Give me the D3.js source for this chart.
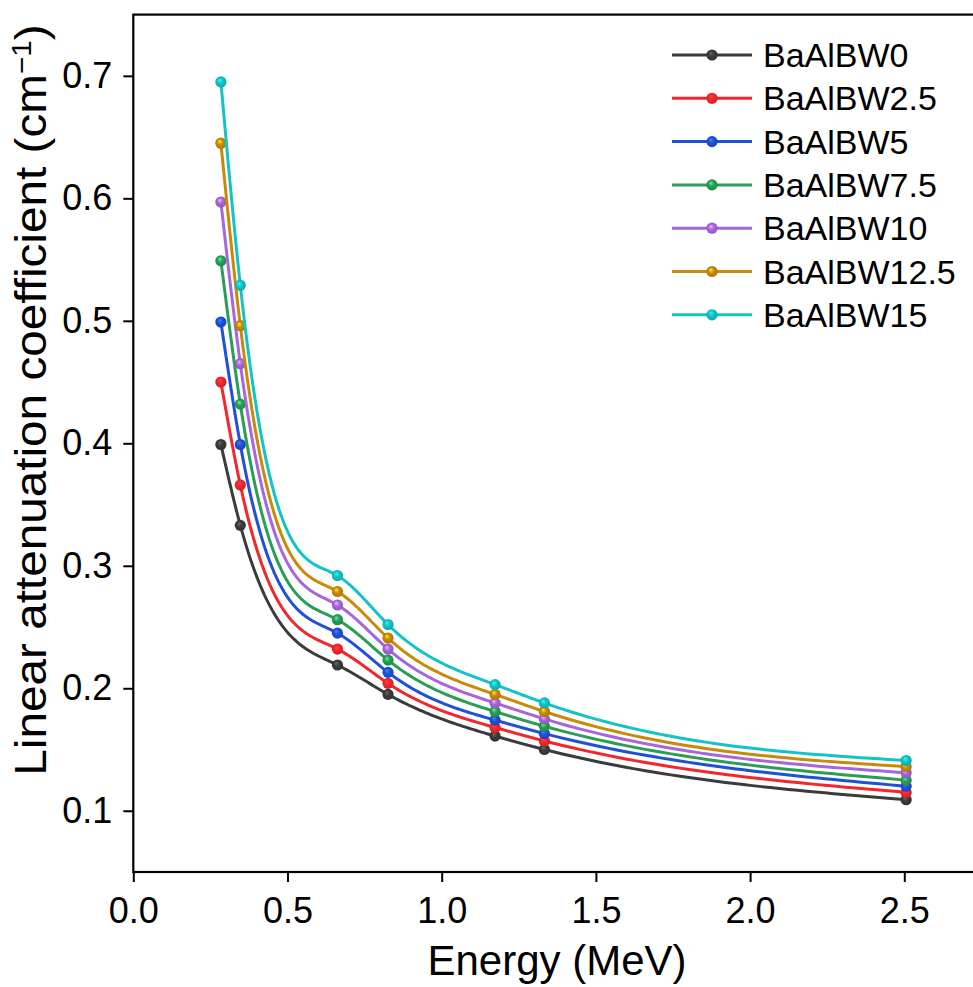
<!DOCTYPE html>
<html>
<head>
<meta charset="utf-8">
<script src="https://cdn.jsdelivr.net/npm/d3@7"></script>
<style>
    body { margin: 0; background: #ffffff; }
    text { font-family: Arial, "Liberation Sans", sans-serif; fill: #000000; }
</style>
</head>
<body>
<svg id="chart" width="973" height="987"></svg>
<script>
// photon energies (MeV)
var energies = [0.284, 0.347, 0.662, 0.826, 1.173, 1.333, 2.506];

var seriesNames = ["BaAlBW0", "BaAlBW2.5", "BaAlBW5", "BaAlBW7.5", "BaAlBW10", "BaAlBW12.5", "BaAlBW15"];

// linear attenuation coefficient (cm^-1)
var baAlBW0 = [0.399, 0.333, 0.219, 0.195, 0.161, 0.150, 0.109];
var baAlBW25 = [0.450, 0.366, 0.232, 0.204, 0.168, 0.157, 0.115];
var baAlBW5 = [0.499, 0.399, 0.245, 0.213, 0.174, 0.163, 0.120];
var baAlBW75 = [0.549, 0.432, 0.256, 0.223, 0.181, 0.169, 0.125];
var baAlBW10 = [0.597, 0.465, 0.268, 0.232, 0.188, 0.175, 0.131];
var baAlBW125 = [0.645, 0.496, 0.279, 0.241, 0.195, 0.181, 0.136];
var baAlBW15 = [0.695, 0.529, 0.292, 0.252, 0.203, 0.188, 0.141];

var seriesValues = [baAlBW0, baAlBW25, baAlBW5, baAlBW75, baAlBW10, baAlBW125, baAlBW15];
var seriesColors = ["#3b3b3b", "#f2272c", "#1f50d8", "#2a9e57", "#a766dc", "#c98a09", "#14c3c6"];

var xTicks = [0, 0.5, 1.0, 1.5, 2.0, 2.5];
var yTicks = [0.1, 0.2, 0.3, 0.4, 0.5, 0.6, 0.7];

var svg = d3.select("#chart");

let xScale = d3.scaleLinear().domain([0, 2.75]).range([133.3, 981.4]);
let yScale = d3.scaleLinear().domain([0.05, 0.75]).range([872, 14.6]);

// natural cubic spline y(x), used only to trace the smooth line between the points
function splinePath(xs, ys) {
    var n = xs.length;
    var h = [], alpha = [0];
    for (var i = 0; i < n - 1; i++) h.push(xs[i + 1] - xs[i]);
    for (var i = 1; i < n - 1; i++) {
        alpha.push(3 / h[i] * (ys[i + 1] - ys[i]) - 3 / h[i - 1] * (ys[i] - ys[i - 1]));
    }
    var l = [1], mu = [0], z = [0];
    for (var i = 1; i < n - 1; i++) {
        l.push(2 * (xs[i + 1] - xs[i - 1]) - h[i - 1] * mu[i - 1]);
        mu.push(h[i] / l[i]);
        z.push((alpha[i] - h[i - 1] * z[i - 1]) / l[i]);
    }
    var c = new Array(n).fill(0), b = [], d = [];
    for (var j = n - 2; j >= 0; j--) {
        c[j] = (j == 0) ? 0 : z[j] - mu[j] * c[j + 1];
        b[j] = (ys[j + 1] - ys[j]) / h[j] - h[j] * (c[j + 1] + 2 * c[j]) / 3;
        d[j] = (c[j + 1] - c[j]) / (3 * h[j]);
    }
    var out = [];
    for (var j = 0; j < n - 1; j++) {
        var steps = 40;
        for (var k = 0; k < steps; k++) {
            var t = h[j] * k / steps;
            out.push([xs[j] + t, ys[j] + b[j] * t + c[j] * t * t + d[j] * t * t * t]);
        }
    }
    out.push([xs[n - 1], ys[n - 1]]);
    return out;
}

// marker gradients (shiny balls)
var defs = svg.append("defs");
seriesColors.forEach(function (c, i) {
    var grad = defs.append("radialGradient")
        .attr("id", "ball" + i)
        .attr("cx", "50%").attr("cy", "50%").attr("r", "55%")
        .attr("fx", "38%").attr("fy", "32%");
    grad.append("stop").attr("offset", "0%").attr("stop-color", d3.color(c).brighter(1.6));
    grad.append("stop").attr("offset", "45%").attr("stop-color", c);
    grad.append("stop").attr("offset", "100%").attr("stop-color", d3.color(c).darker(0.5));
});

// axes
var xMinor = d3.range(0, 2.76, 0.25);
var yMinor = d3.range(0.05, 0.751, 0.05);

var gx = svg.append("g").attr("transform", "translate(0," + yScale(0.05) + ")");
gx.call(d3.axisBottom(xScale).tickValues(xMinor).tickSize(5).tickFormat(""));
gx.call(d3.axisBottom(xScale).tickValues(xTicks).tickSize(10).tickPadding(8).tickFormat(d3.format(".1f")));

var gy = svg.append("g").attr("transform", "translate(" + xScale(0) + ",0)");
gy.call(d3.axisLeft(yScale).tickValues(yMinor).tickSize(5).tickFormat(""));
gy.call(d3.axisLeft(yScale).tickValues(yTicks).tickSize(10).tickPadding(10).tickFormat(d3.format(".1f")));

svg.selectAll(".domain").remove();
svg.selectAll(".tick line").attr("stroke", "#000").attr("stroke-width", 2);
svg.selectAll(".tick text").style("font-size", "36px").style("font-family", "Arial, 'Liberation Sans', sans-serif").attr("fill", "#000");
gx.selectAll(".tick text").attr("dy", "0.93em");
gy.selectAll(".tick text").attr("dx", "-1px");

// frame
svg.append("rect")
    .attr("x", xScale(0))
    .attr("y", yScale(0.75))
    .attr("width", xScale(2.75) - xScale(0))
    .attr("height", yScale(0.05) - yScale(0.75))
    .attr("fill", "none")
    .attr("stroke", "#000")
    .attr("stroke-width", 2.2);

// series
var line = d3.line()
    .x(function (d) { return xScale(d[0]); })
    .y(function (d) { return yScale(d[1]); });

seriesValues.forEach(function (vals, i) {
    var pts = energies.map(function (e, j) { return [e, vals[j]]; });
    var g = svg.append("g");
    g.append("path")
        .attr("d", line(splinePath(energies, vals)))
        .attr("fill", "none")
        .attr("stroke", seriesColors[i])
        .attr("stroke-width", 3);
    g.selectAll("circle")
        .data(pts)
        .enter()
        .append("circle")
        .attr("cx", function (d) { return xScale(d[0]); })
        .attr("cy", function (d) { return yScale(d[1]); })
        .attr("r", 5.6)
        .attr("fill", "url(#ball" + i + ")");
});

// legend
var legend = svg.append("g");
seriesNames.forEach(function (name, i) {
    var y = 55 + i * 43.3;
    legend.append("line")
        .attr("x1", 672).attr("x2", 752)
        .attr("y1", y).attr("y2", y)
        .attr("stroke", seriesColors[i])
        .attr("stroke-width", 3);
    legend.append("circle")
        .attr("cx", 712).attr("cy", y)
        .attr("r", 5.6)
        .attr("fill", "url(#ball" + i + ")");
    legend.append("text")
        .attr("x", 763).attr("y", y + 12)
        .style("font-size", "34px")
        .text(name);
});

// axis titles
svg.append("text")
    .attr("x", 557).attr("y", 975)
    .attr("text-anchor", "middle")
    .style("font-size", "42px")
    .text("Energy (MeV)");

var yTitle = svg.append("text")
    .attr("transform", "translate(46,400) rotate(-90) scale(1.06,1)")
    .attr("text-anchor", "middle")
    .style("font-size", "45px");
yTitle.append("tspan").text("Linear attenuation coefficient (cm");
yTitle.append("tspan").attr("dy", "-15").style("font-size", "28px").text("\u22121");
yTitle.append("tspan").attr("dy", "15").text(")");
</script>
</body>
</html>
